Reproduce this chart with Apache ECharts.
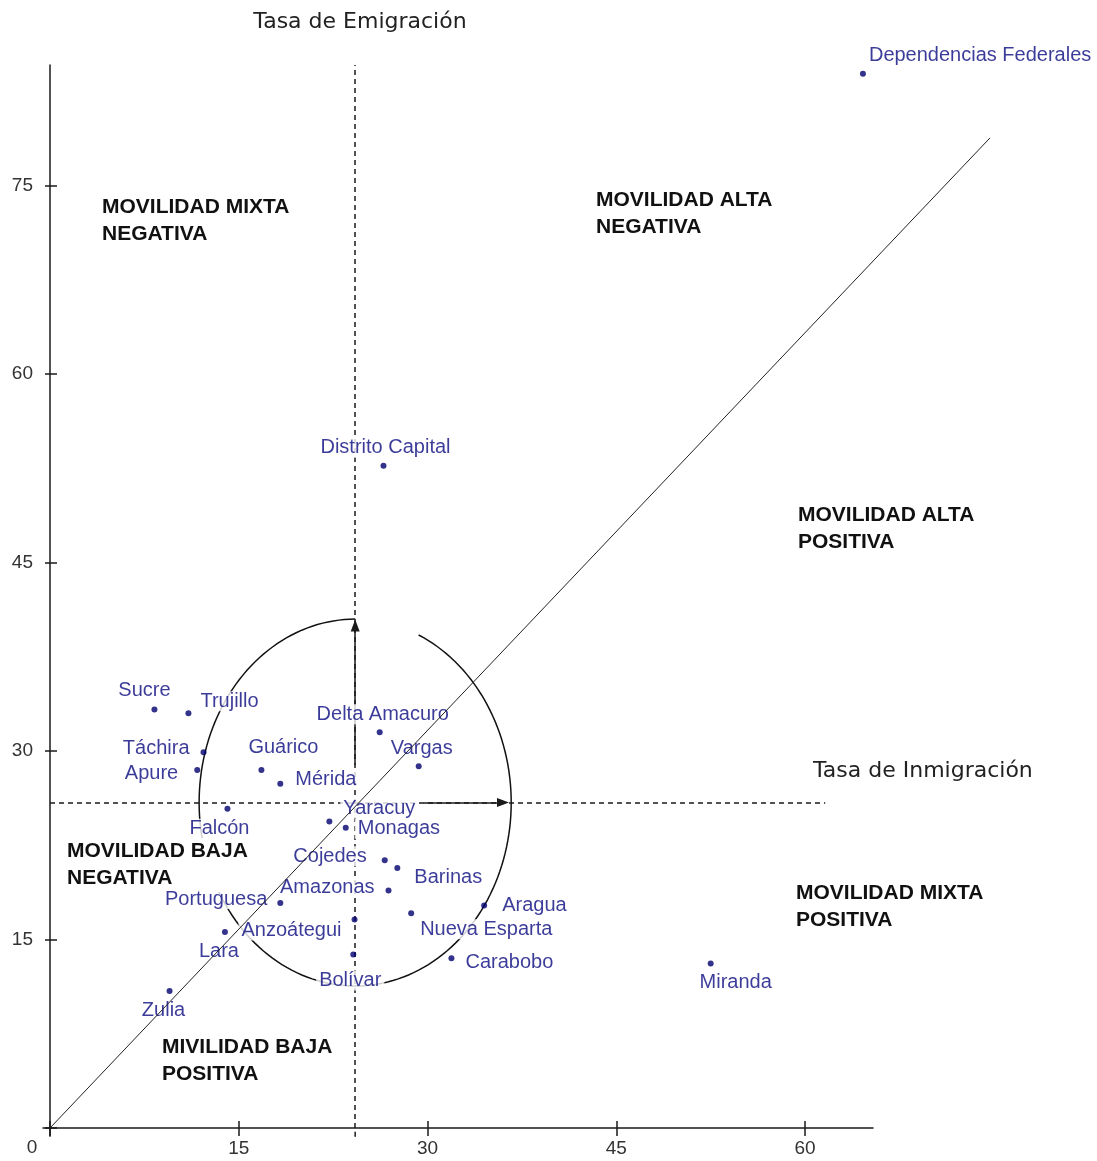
<!DOCTYPE html>
<html>
<head>
<meta charset="utf-8">
<script src="https://cdn.jsdelivr.net/npm/echarts@6/dist/echarts.min.js"></script>
<style>
html, body { margin: 0; padding: 0; background: #fff; }
#chart { width: 1097px; height: 1161px; }
</style>
</head>
<body>
<div id="chart"></div>
<script>
// tasas por entidad federal
var estados = ['Dependencias Federales', 'Distrito Capital', 'Sucre', 'Trujillo', 'Táchira', 'Apure',
    'Guárico', 'Mérida', 'Delta Amacuro', 'Vargas', 'Falcón', 'Yaracuy', 'Monagas', 'Cojedes',
    'Barinas', 'Amazonas', 'Portuguesa', 'Aragua', 'Nueva Esparta', 'Anzoátegui', 'Lara',
    'Bolívar', 'Carabobo', 'Miranda', 'Zulia'];
var inmigracion = [64.6, 26.5, 8.3, 11.0, 12.2, 11.7, 16.8, 18.3, 26.2, 29.3, 14.1, 22.2, 23.5, 26.6,
    27.6, 26.9, 18.3, 34.5, 28.7, 24.2, 13.9, 24.1, 31.9, 52.5, 9.5];
var emigracion = [83.9, 52.7, 33.3, 33.0, 29.9, 28.5, 28.5, 27.4, 31.5, 28.8, 25.4, 24.4, 23.9, 21.3,
    20.7, 18.9, 17.9, 17.7, 17.1, 16.6, 15.6, 13.8, 13.5, 13.1, 10.9];

var xTicks = [0, 15, 30, 45, 60];
var yTicks = [0, 15, 30, 45, 60, 75];

// lineas de referencia
var mediaInmigracion = 24.25;
var mediaEmigracion = 25.9;
var diagonal = [[0, 0], [74.7, 78.8]];
var radioX = 12.4, radioY = 14.6;

// donde va cada etiqueta respecto a su punto: [align, dx, dy]
var etiquetas = {
    'Dependencias Federales': ['left', 3, -18],
    'Distrito Capital': ['center', 2, -18],
    'Sucre': ['center', -10, -19],
    'Trujillo': ['left', 9, -12],
    'Táchira': ['right', -11, -4],
    'Apure': ['right', -16, 4],
    'Guárico': ['center', 22, -22],
    'Mérida': ['left', 12, -4],
    'Delta Amacuro': ['center', 3, -18],
    'Vargas': ['center', 3, -18],
    'Falcón': ['center', -8, 20],
    'Yaracuy': ['left', 11, -13],
    'Monagas': ['left', 9, 1],
    'Cojedes': ['right', -15, -4],
    'Barinas': ['left', 14, 10],
    'Amazonas': ['right', -11, -3],
    'Portuguesa': ['right', -10, -4],
    'Aragua': ['left', 15, 0],
    'Nueva Esparta': ['left', 6, 16],
    'Anzoátegui': ['right', -10, 11],
    'Lara': ['center', -6, 19],
    'Bolívar': ['center', -3, 26],
    'Carabobo': ['left', 11, 4],
    'Miranda': ['center', 25, 19],
    'Zulia': ['center', -6, 19]
};

var puntos = estados.map(function (n, i) {
    var e = etiquetas[n];
    return {
        name: n,
        value: [inmigracion[i], emigracion[i]],
        label: { align: e[0], offset: [e[1], e[2]] }
    };
});

var negro = '#1a1a1a';
var solid = { color: negro, width: 1.5, type: 'solid' };

var option = {
    backgroundColor: '#fff',
    animation: false,
    grid: { left: 50, top: 65, right: 224, bottom: 33 },
    xAxis: [
        {
            type: 'value', min: 0, max: 65.4, interval: 15,
            axisLine: { lineStyle: { color: negro, width: 1.5 } },
            axisTick: { show: true, length: 8, customValues: xTicks, lineStyle: { color: negro, width: 1.5 } },
            axisLabel: {
                margin: 11, color: '#333', fontSize: 19, fontFamily: 'Liberation Sans',
                customValues: xTicks.slice(1)
            },
            splitLine: { show: false }
        },
        {
            type: 'value', min: 0, max: 65.4, interval: 15, position: 'bottom',
            axisLine: { show: false },
            axisTick: { show: true, inside: true, length: 7, customValues: xTicks, lineStyle: { color: negro, width: 1.5 } },
            axisLabel: { show: false },
            splitLine: { show: false }
        }
    ],
    yAxis: [
        {
            type: 'value', min: 0, max: 84.6, interval: 15,
            axisLine: { show: true, lineStyle: { color: negro, width: 1.5 } },
            axisTick: { show: true, length: 5, customValues: yTicks, lineStyle: { color: negro, width: 1.5 } },
            axisLabel: {
                margin: 17, color: '#333', fontSize: 19, fontFamily: 'Liberation Sans',
                customValues: yTicks.slice(1)
            },
            splitLine: { show: false }
        },
        {
            type: 'value', min: 0, max: 84.6, interval: 15, position: 'left',
            axisLine: { show: false },
            axisTick: { show: true, inside: true, length: 7, customValues: yTicks, lineStyle: { color: negro, width: 1.5 } },
            axisLabel: { show: false },
            splitLine: { show: false }
        }
    ],
    series: [
        {
            name: 'guias',
            type: 'line',
            data: [],
            z: 1,
            silent: true,
            markLine: {
                z: 1,
                silent: true,
                animation: false,
                symbol: ['none', 'none'],
                label: { show: false },
                lineStyle: { color: negro, width: 1.5, type: [5, 4] },
                data: [
                    { xAxis: mediaInmigracion },
                    [{ coord: [0, mediaEmigracion] }, { coord: [61.6, mediaEmigracion] }],
                    [{ coord: [mediaInmigracion, 28.9], lineStyle: solid, symbol: 'none' },
                     { coord: [mediaInmigracion, 40.0], symbol: 'triangle', symbolSize: [9, 12] }],
                    [{ coord: [29.7, mediaEmigracion], lineStyle: solid, symbol: 'none' },
                     { coord: [36.0, mediaEmigracion], symbol: 'triangle', symbolSize: [9, 12] }]
                ]
            }
        },
        {
            name: 'entidades',
            type: 'scatter',
            z: 2,
            symbol: 'circle',
            symbolSize: 6,
            itemStyle: { color: '#00006e' },
            label: {
                show: true,
                position: 'inside',
                verticalAlign: 'middle',
                formatter: '{b}',
                color: '#0a0a80',
                fontSize: 20,
                fontFamily: 'Liberation Sans',
                backgroundColor: '#fff',
                padding: [0, 3]
            },
            data: puntos
        }
    ]
};

var chart = echarts.init(document.getElementById('chart'));
chart.setOption(option);

function px(v) {
    return chart.convertToPixel({ seriesIndex: 1 }, v);
}

// elipse de movilidad alrededor del cruce de medias
var c = px([mediaInmigracion, mediaEmigracion]);
var r = px([mediaInmigracion + radioX, mediaEmigracion + radioY]);
var rx = r[0] - c[0], ry = c[1] - r[1];
var arco = [];
for (var a = 90; a <= 427; a += 2) {
    var t = a * Math.PI / 180;
    arco.push([c[0] + rx * Math.cos(t), c[1] - ry * Math.sin(t)]);
}

function linea(p1, p2, z, estilo) {
    var a = px(p1), b = px(p2);
    return { type: 'line', z: z, silent: true, shape: { x1: a[0], y1: a[1], x2: b[0], y2: b[1] }, style: estilo };
}

function cuadrante(texto, x, y) {
    return {
        type: 'text', x: x, y: y, z: 1,
        style: {
            text: texto, fill: '#111', font: 'bold 21px "Liberation Sans"',
            lineHeight: 27, verticalAlign: 'middle', align: 'left',
            backgroundColor: '#fff'
        }
    };
}

chart.setOption({
    graphic: [
        { type: 'polyline', z: 0, silent: true, shape: { points: arco }, style: { stroke: '#111', lineWidth: 1.5, fill: null } },
        linea([mediaInmigracion, -0.7], [mediaInmigracion, 0], 0, { stroke: negro, lineWidth: 1.5, lineDash: [5, 4] }),
        linea([-0.6, 0], [0, 0], 0, { stroke: negro, lineWidth: 1.5 }),
        linea([0, -0.7], [0, 0], 0, { stroke: negro, lineWidth: 1.5 }),
        linea(diagonal[0], diagonal[1], 5, { stroke: '#222', lineWidth: 1 }),
        cuadrante('MOVILIDAD MIXTA\nNEGATIVA', 102, 221),
        cuadrante('MOVILIDAD ALTA\nNEGATIVA', 596, 214),
        cuadrante('MOVILIDAD ALTA\nPOSITIVA', 798, 529),
        cuadrante('MOVILIDAD MIXTA\nPOSITIVA', 796, 907),
        cuadrante('MOVILIDAD BAJA\nNEGATIVA', 67, 865),
        cuadrante('MIVILIDAD BAJA\nPOSITIVA', 162, 1061),
        {
            type: 'text', x: 360, y: 22, z: 3,
            style: { text: 'Tasa de Emigración', fill: '#222', font: '22px "DejaVu Sans"', align: 'center', verticalAlign: 'middle' }
        },
        {
            type: 'text', x: 813, y: 771, z: 3,
            style: { text: 'Tasa de Inmigración', fill: '#222', font: '22px "DejaVu Sans"', align: 'left', verticalAlign: 'middle' }
        },
        {
            type: 'text', x: 32, y: 1148, z: 3,
            style: { text: '0', fill: '#333', font: '19px "Liberation Sans"', align: 'center', verticalAlign: 'middle' }
        }
    ]
});
</script>
</body>
</html>
